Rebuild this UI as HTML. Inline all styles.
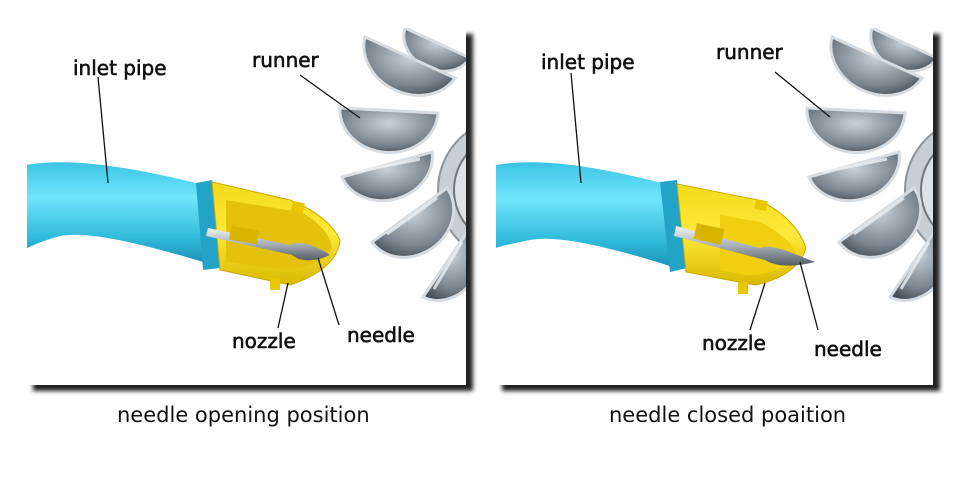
<!DOCTYPE html>
<html><head><meta charset="utf-8"><style>
html,body{margin:0;padding:0;background:#fff;width:960px;height:480px;overflow:hidden}
svg{display:block}
text{font-family:"DejaVu Sans","Liberation Sans",sans-serif;fill:#111}
</style></head><body>
<svg width="960" height="480" viewBox="0 0 960 480" xmlns="http://www.w3.org/2000/svg">
<defs>
<linearGradient id="pipe" x1="0" y1="0" x2="0" y2="1">
<stop offset="0" stop-color="#3cc4e4"/><stop offset="0.35" stop-color="#6fe6fb"/><stop offset="0.75" stop-color="#2fb9da"/><stop offset="1" stop-color="#1b8fb3"/>
</linearGradient>
<linearGradient id="yel" x1="0" y1="0" x2="0" y2="1">
<stop offset="0" stop-color="#f3da1a"/><stop offset="0.5" stop-color="#ffe93a"/><stop offset="1" stop-color="#d9b800"/>
</linearGradient>
<radialGradient id="bk" cx="0.5" cy="0.35" r="0.8">
<stop offset="0" stop-color="#c9d2d9"/><stop offset="0.6" stop-color="#7a858f"/><stop offset="1" stop-color="#2f363d"/>
</radialGradient>
<linearGradient id="ndl" x1="0" y1="0" x2="0" y2="1">
<stop offset="0" stop-color="#f2f4f6"/><stop offset="0.5" stop-color="#a9b0b7"/><stop offset="1" stop-color="#555d65"/>
</linearGradient>
<filter id="sh" x="-5%" y="-5%" width="115%" height="115%"><feGaussianBlur stdDeviation="2"/></filter>
<clipPath id="c1"><rect x="27" y="28" width="439" height="357"/></clipPath>
<clipPath id="c2"><rect x="496" y="28" width="437" height="357"/></clipPath>
<g id="runner">
<circle cx="510" cy="190" r="72" fill="#c7ced4" stroke="#8d959c" stroke-width="2"/>
<circle cx="510" cy="190" r="56" fill="#dde2e6" stroke="#6f777e" stroke-width="2"/>
<g stroke="#d6dce1" stroke-width="3">
<path d="M405,28 L470,58 A36 30 25 0 1 405,28Z" fill="url(#bk)"/>
<path d="M365,37 L455,78 A50 42 25 0 1 365,37Z" fill="url(#bk)"/>
<path d="M340,108 L438,113 A49 42 3 0 1 340,108Z" fill="url(#bk)"/>
<path d="M342,177 L432,152 A47 40 -15 0 1 342,177Z" fill="url(#bk)"/>
<path d="M372,242 L447,188 A46 40 -36 0 1 372,242Z" fill="url(#bk)"/>
<path d="M423,297 L470,228 A42 36 -55 0 1 423,297Z" fill="url(#bk)"/>
</g>
<g stroke="#eef1f3" stroke-width="3" opacity="0.8">
<line x1="356" y1="172" x2="420" y2="159"/>
<line x1="387" y1="234" x2="437" y2="198"/>
<line x1="434" y1="289" x2="462" y2="242"/>
</g>
</g>
</defs>

<rect x="33" y="34" width="440" height="357" fill="#222" filter="url(#sh)"/>
<rect x="502" y="34" width="438" height="357" fill="#222" filter="url(#sh)"/>
<rect x="27" y="28" width="439" height="357" fill="#fff"/>
<rect x="496" y="28" width="437" height="357" fill="#fff"/>

<g clip-path="url(#c1)">
<use href="#runner"/>
<path d="M20,166 C60,158 110,162 200,184 L210,264 C150,246 90,230 60,236 C45,240 30,246 20,252Z" fill="url(#pipe)"/>
<path d="M196,183 L212,180 L220,268 L203,270Z" fill="#23a3c6"/>
<path d="M212,182 L290,200 C320,212 335,228 340,240 C338,260 320,275 290,285 L220,270Z" fill="url(#yel)" stroke="#c9a800" stroke-width="1"/>
<rect x="292" y="202" width="12" height="10" fill="#e8c600" transform="rotate(12 298 207)"/>
<rect x="270" y="278" width="10" height="12" fill="#e8c600"/>
<path d="M226,200 L300,212 C320,222 330,235 332,248 C325,262 305,268 285,270 L226,262Z" fill="#e3c10c"/>
<path d="M208,228 L290,245 C300,240 315,245 330,255 C315,262 300,262 292,255 L206,236Z" fill="url(#ndl)"/>
<rect x="230" y="228" width="28" height="14" fill="#d6b400" transform="rotate(10 244 235)"/>
</g>

<g clip-path="url(#c2)">
<use href="#runner" transform="translate(467,0)"/>
<path d="M490,166 C530,158 580,162 666,184 L676,268 C620,250 560,234 530,240 C515,243 500,246 490,250Z" fill="url(#pipe)"/>
<path d="M660,182 L677,180 L687,268 L670,272Z" fill="#23a3c6"/>
<path d="M677,184 L758,200 C785,212 800,230 806,248 C800,268 780,280 755,285 L686,272Z" fill="url(#yel)" stroke="#c9a800" stroke-width="1"/>
<rect x="755" y="200" width="12" height="10" fill="#e8c600" transform="rotate(12 761 205)"/>
<rect x="738" y="282" width="10" height="12" fill="#e8c600"/>
<path d="M720,215 L760,222 C780,232 795,245 798,258 C785,270 765,275 745,275 L720,270Z" fill="#f0cf10"/>
<path d="M676,226 L760,248 C770,243 790,252 815,262 C790,268 775,266 765,260 L674,236Z" fill="url(#ndl)"/>
<rect x="695" y="226" width="28" height="16" fill="#d6b400" transform="rotate(12 709 234)"/>
</g>

<g stroke="#111" stroke-width="1.3" fill="none">
<line x1="98" y1="77" x2="108" y2="183"/>
<line x1="300" y1="75" x2="360" y2="118"/>
<line x1="288" y1="283" x2="278" y2="328"/>
<line x1="318" y1="258" x2="339" y2="325"/>
<line x1="571" y1="73" x2="581" y2="183"/>
<line x1="775" y1="72" x2="830" y2="117"/>
<line x1="765" y1="283" x2="750" y2="330"/>
<line x1="800" y1="262" x2="818" y2="330"/>
</g>

<g font-size="20" stroke="#111" stroke-width="0.6">
<text x="73" y="75">inlet pipe</text>
<text x="252" y="67">runner</text>
<text x="232" y="348">nozzle</text>
<text x="347" y="342">needle</text>
<text x="541" y="69">inlet pipe</text>
<text x="716" y="59">runner</text>
<text x="702" y="350">nozzle</text>
<text x="814" y="356">needle</text>
</g>
<text x="117" y="422" font-size="21">needle opening position</text>
<text x="609" y="422" font-size="21">needle closed poaition</text>
</svg>
</body></html>
